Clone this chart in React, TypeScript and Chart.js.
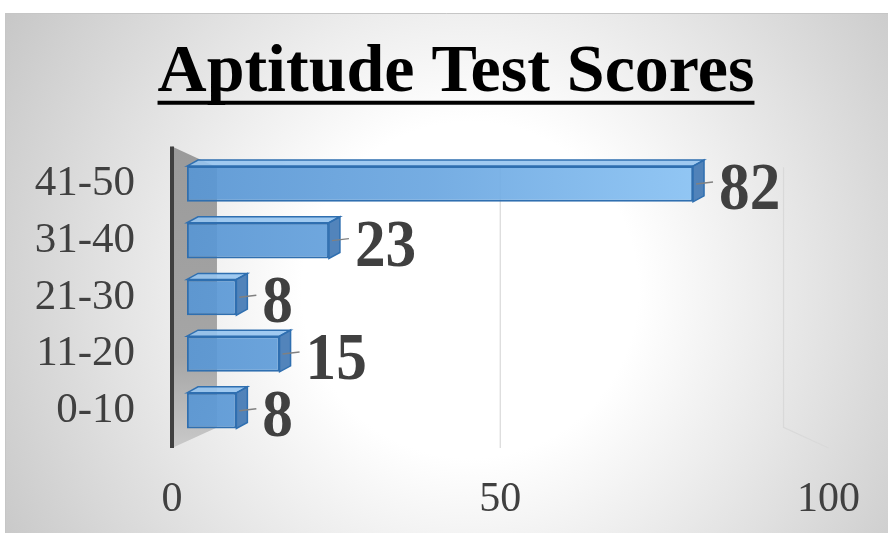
import React, { useEffect, useRef } from 'react';
import { Chart, registerables } from 'chart.js';

Chart.register(...registerables);

const titleText = 'Aptitude Test Scores';
const categories = ['41-50', '31-40', '21-30', '11-20', '0-10'];
const counts = [82, 23, 8, 15, 8];
const xMin = 0;
const xMax = 100;
const xStep = 50;

const FONT = '"Liberation Serif", "Times New Roman", serif';
const TITLE_SIZE = 68;
const TITLE_PAD_TOP = 33;
const TITLE_PAD_BOTTOM = 41;
const BAR_K = 0.94;
const BACK_K = 0.863;
const DEPTH_SHIFT = 15;
const EXT_DX = 11;
const EXT_DY = -6;

function geometry(chart: any) {
  const xs = chart.scales.x;
  const area = chart.chartArea;
  const vpX = (xs.left + xs.right) / 2;
  const vpY = (area.top + area.bottom) / 2;
  const halfFront = (area.bottom - area.top) / 2 / BAR_K;
  return {
    xs,
    area,
    vpX,
    vpY,
    fTop: vpY - halfFront,
    fBot: vpY + halfFront,
    bTop: vpY - halfFront * BACK_K,
    bBot: vpY + halfFront * BACK_K,
    back: (px: number) => vpX + (px - vpX) * BACK_K,
    x0: xs.getPixelForValue(xMin),
  };
}

const scenePlugin = {
  id: 'scene3d',
  beforeDraw(chart: any) {
    const { ctx, width, height } = chart;
    ctx.save();
    ctx.fillStyle = '#ffffff';
    ctx.fillRect(0, 0, width, height);
    const g = ctx.createRadialGradient(470, 290, 0, 470, 290, 560);
    g.addColorStop(0, '#ffffff');
    g.addColorStop(0.3, '#ffffff');
    g.addColorStop(1, '#c4c4c4');
    ctx.fillStyle = g;
    ctx.fillRect(5, 13, width - 5, height - 13);
    ctx.strokeStyle = '#c6c6c6';
    ctx.lineWidth = 1;
    ctx.beginPath();
    ctx.moveTo(5.5, height);
    ctx.lineTo(5.5, 13.5);
    ctx.lineTo(width, 13.5);
    ctx.stroke();
    ctx.restore();
  },
  beforeDatasetsDraw(chart: any) {
    const { ctx } = chart;
    const g = geometry(chart);
    ctx.save();
    ctx.strokeStyle = '#d9d9d9';
    ctx.lineWidth = 1.2;
    for (let v = xMin + xStep; v <= xMax; v += xStep) {
      const xf = g.xs.getPixelForValue(v);
      const xb = g.back(xf);
      ctx.beginPath();
      ctx.moveTo(xb, g.bTop);
      ctx.lineTo(xb, g.bBot);
      ctx.lineTo(xf, g.fBot);
      ctx.stroke();
    }
    const x0b = g.back(g.x0);
    const wg = ctx.createLinearGradient(0, g.fTop, 0, g.fBot);
    wg.addColorStop(0, '#9a9a9a');
    wg.addColorStop(0.7, '#a6a6a6');
    wg.addColorStop(1, '#c9c9c9');
    ctx.fillStyle = wg;
    ctx.beginPath();
    ctx.moveTo(g.x0, g.fTop);
    ctx.lineTo(x0b, g.bTop);
    ctx.lineTo(x0b, g.bBot);
    ctx.lineTo(g.x0, g.fBot);
    ctx.closePath();
    ctx.fill();
    ctx.strokeStyle = '#404040';
    ctx.lineWidth = 4;
    ctx.beginPath();
    ctx.moveTo(g.x0, g.fTop);
    ctx.lineTo(g.x0, g.fBot);
    ctx.stroke();
    ctx.restore();
    ctx.save();
    ctx.translate(g.x0 + DEPTH_SHIFT, 0);
    ctx.scale(BAR_K, 1);
    ctx.translate(-g.x0, 0);
  },
  afterDatasetsDraw(chart: any) {
    const { ctx } = chart;
    ctx.restore();
    const g = geometry(chart);
    const tx = (px: number) => g.x0 + DEPTH_SHIFT + (px - g.x0) * BAR_K;
    const meta = chart.getDatasetMeta(0);
    ctx.save();
    meta.data.forEach((bar: any, i: number) => {
      const p = bar.getProps(['x', 'y', 'base', 'height'], true);
      const xs = tx(p.base);
      const xe = tx(p.x);
      const top = p.y - p.height / 2;
      const bot = p.y + p.height / 2;
      ctx.fillStyle = 'rgba(150,196,240,0.9)';
      ctx.strokeStyle = '#2f6fb0';
      ctx.lineWidth = 1.5;
      ctx.beginPath();
      ctx.moveTo(xs, top);
      ctx.lineTo(xs + EXT_DX, top + EXT_DY);
      ctx.lineTo(xe + EXT_DX, top + EXT_DY);
      ctx.lineTo(xe, top);
      ctx.closePath();
      ctx.fill();
      ctx.stroke();
      ctx.fillStyle = 'rgba(52,110,175,0.85)';
      ctx.beginPath();
      ctx.moveTo(xe, top);
      ctx.lineTo(xe + EXT_DX, top + EXT_DY);
      ctx.lineTo(xe + EXT_DX, bot + EXT_DY);
      ctx.lineTo(xe, bot);
      ctx.closePath();
      ctx.fill();
      ctx.stroke();
      const lx = xe + EXT_DX + 15;
      ctx.strokeStyle = '#808080';
      ctx.lineWidth = 1.5;
      ctx.beginPath();
      ctx.moveTo(xe + 3, p.y);
      ctx.lineTo(lx - 6, p.y - 2);
      ctx.stroke();
      ctx.save();
      ctx.translate(lx, p.y + 25);
      ctx.scale(0.9, 1);
      ctx.font = `bold 68px ${FONT}`;
      ctx.fillStyle = '#404040';
      ctx.textAlign = 'left';
      ctx.textBaseline = 'alphabetic';
      ctx.fillText(String(counts[i]), 0, 0);
      ctx.restore();
    });
    ctx.restore();
  },
  afterDraw(chart: any) {
    const { ctx } = chart;
    const tb = chart.titleBlock;
    if (!tb) return;
    ctx.save();
    ctx.font = `bold ${TITLE_SIZE}px ${FONT}`;
    const w = ctx.measureText(titleText).width;
    const cx = tb.left + tb.width / 2;
    const mid = tb.top + TITLE_PAD_TOP + (TITLE_SIZE * 1.2) / 2;
    const y = mid + 0.3375 * TITLE_SIZE + 4;
    ctx.fillStyle = '#000000';
    ctx.fillRect(cx - w / 2, y, w, 4);
    ctx.restore();
  },
};

export default function App() {
  const ref = useRef<HTMLCanvasElement | null>(null);
  useEffect(() => {
    if (!ref.current) return;
    const chart = new Chart(ref.current, {
      type: 'bar',
      data: {
        labels: categories,
        datasets: [
          {
            data: counts,
            backgroundColor: (c: any) => {
              const a = c.chart.chartArea;
              if (!a) return '#6aa3dc';
              const g = c.chart.ctx.createLinearGradient(a.left, 0, a.right, 0);
              g.addColorStop(0, 'rgba(88,150,212,0.92)');
              g.addColorStop(0.4, 'rgba(106,166,224,0.92)');
              g.addColorStop(1, 'rgba(150,206,252,0.92)');
              return g;
            },
            borderColor: '#2f6fb0',
            borderWidth: 2,
            borderSkipped: false,
            categoryPercentage: 1,
            barPercentage: 0.63,
            clip: false as any,
          },
        ],
      },
      options: {
        indexAxis: 'y',
        responsive: false,
        animation: false,
        layout: { padding: { top: 0, left: 24, right: 0, bottom: 10 } },
        plugins: {
          legend: { display: false },
          tooltip: { enabled: false },
          title: {
            display: true,
            text: titleText,
            color: '#000000',
            font: { family: FONT, size: TITLE_SIZE, weight: 'bold' },
            padding: { top: TITLE_PAD_TOP, bottom: TITLE_PAD_BOTTOM },
          },
        },
        scales: {
          x: {
            min: xMin,
            max: xMax,
            grid: { display: false },
            border: { display: false },
            afterFit: (s: any) => {
              s.height = 84;
            },
            ticks: {
              stepSize: xStep,
              color: '#404040',
              padding: 28,
              maxRotation: 0,
              autoSkip: false,
              font: { family: FONT, size: 42 },
            },
          },
          y: {
            grid: { display: false },
            border: { display: false },
            afterFit: (s: any) => {
              s.width = 148;
            },
            ticks: {
              color: '#404040',
              padding: 29,
              autoSkip: false,
              font: { family: FONT, size: 43 },
            },
          },
          yRight: {
            type: 'category',
            position: 'right',
            grid: { display: false },
            border: { display: false },
            ticks: { display: false },
            afterFit: (s: any) => {
              s.width = 54;
            },
          },
        },
      },
      plugins: [scenePlugin],
    });
    return () => chart.destroy();
  }, []);
  return (
    <div style={{ position: 'absolute', left: 0, top: 0, width: 888, height: 533 }}>
      <canvas ref={ref} width={888} height={533} style={{ display: 'block' }} />
    </div>
  );
}
